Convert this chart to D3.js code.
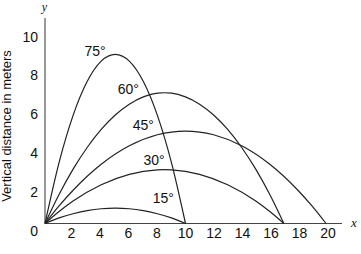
<!DOCTYPE html>
<html>
<head>
<meta charset="utf-8">
<script src="https://cdnjs.cloudflare.com/ajax/libs/d3/7.8.5/d3.min.js"></script>
<style>
  body { margin: 0; background: #fff; }
  svg { display: block; }
  .tick text { font-family: "Liberation Sans", Arial, Helvetica, sans-serif; font-size: 14px; fill: #111; }
</style>
</head>
<body>
<script>
// tick labels
var xTicks = [2, 4, 6, 8, 10, 12, 14, 16, 18, 20];
var yTicks = [0, 2, 4, 6, 8, 10];

// trajectories: [horizontal m, vertical m]
var curve15 = [[0, 0], [1, 0.30], [2, 0.52], [3, 0.69], [4, 0.79], [5, 0.82], [6, 0.79], [7, 0.69], [8, 0.52], [9, 0.30], [10, 0]];
var curve30 = [[0, 0], [1, 0.64], [2, 1.20], [4, 2.07], [6, 2.63], [8, 2.87], [8.5, 2.88], [9, 2.87], [11, 2.63], [13, 2.07], [15, 1.20], [16, 0.64], [17, 0]];
var curve45 = [[0, 0], [1, 0.94], [2, 1.78], [4, 3.17], [6, 4.16], [8, 4.75], [10, 4.95], [12, 4.75], [14, 4.16], [16, 3.17], [18, 1.78], [19, 0.94], [20, 0]];
var curve60 = [[0, 0], [1, 1.55], [2, 2.91], [3, 4.07], [4, 5.04], [5, 5.81], [6, 6.39], [7, 6.78], [8, 6.98], [8.5, 7.0], [9, 6.98], [10, 6.78], [11, 6.39], [12, 5.81], [13, 5.04], [14, 4.07], [15, 2.91], [16, 1.55], [17, 0]];
var curve75 = [[0, 0], [1, 3.26], [2, 5.79], [3, 7.60], [4, 8.69], [5, 9.05], [6, 8.69], [7, 7.60], [8, 5.79], [9, 3.26], [10, 0]];

var angles = ['15°', '30°', '45°', '60°', '75°'];
var curves = [curve15, curve30, curve45, curve60, curve75];
// where each angle label sits (data units, baseline)
var labelAt = [[8.42, 1.10], [7.76, 3.13], [7.0, 5.0], [5.93, 6.93], [3.56, 8.97]];

var width = 361;
var height = 254;

var svg = d3.select('body').append('svg')
    .attr('width', width)
    .attr('height', height);

// data scales (corner of the axes is 0,0)
var x = d3.scaleLinear().domain([0, 20]).range([45, 326]);
var y = d3.scaleLinear().domain([0, 10]).range([223.5, 36.7]);
// the printed numbers sit a little off the data grid in the original
var xLab = d3.scaleLinear().domain([0, 20]).range([42.5, 327.5]);
var yLab = d3.scaleLinear().domain([0, 10]).range([230.7, 36.7]);

// axis lines
svg.append('line')
    .attr('x1', x(0)).attr('y1', 18)
    .attr('x2', x(0)).attr('y2', y(0))
    .attr('stroke', '#444').attr('stroke-width', 1.1);
svg.append('line')
    .attr('x1', x(0)).attr('y1', y(0))
    .attr('x2', 342).attr('y2', y(0))
    .attr('stroke', '#444').attr('stroke-width', 1.1);

// tick labels
var xAxis = svg.append('g')
    .attr('transform', 'translate(0,' + 226 + ')')
    .call(d3.axisBottom(xLab).tickValues(xTicks).tickSize(0).tickPadding(2).tickFormat(d3.format('d')));
xAxis.select('.domain').remove();

var yAxis = svg.append('g')
    .attr('transform', 'translate(' + 40 + ',0)')
    .call(d3.axisLeft(yLab).tickValues(yTicks).tickSize(0).tickPadding(2).tickFormat(d3.format('d')));
yAxis.select('.domain').remove();

// trajectories
var line = d3.line()
    .x(function (d) { return x(d[0]); })
    .y(function (d) { return y(d[1]); })
    .curve(d3.curveMonotoneX);

svg.selectAll('.traj')
    .data(curves)
    .enter().append('path')
    .attr('class', 'traj')
    .attr('d', line)
    .attr('fill', 'none')
    .attr('stroke', '#222')
    .attr('stroke-width', 1.2);

// angle labels
svg.selectAll('.angle')
    .data(angles)
    .enter().append('text')
    .attr('class', 'angle')
    .attr('x', function (d, i) { return x(labelAt[i][0]); })
    .attr('y', function (d, i) { return y(labelAt[i][1]); })
    .attr('text-anchor', 'middle')
    .attr('font-family', '"Liberation Sans", Arial, Helvetica, sans-serif')
    .attr('font-size', 14)
    .attr('fill', '#111')
    .text(function (d) { return d; });

// axis titles
svg.append('text')
    .attr('transform', 'translate(11,' + 126 + ') rotate(-90)')
    .attr('text-anchor', 'middle')
    .attr('font-family', '"Liberation Sans", Arial, Helvetica, sans-serif')
    .attr('font-size', 13)
    .attr('fill', '#111')
    .text('Vertical distance in meters');

svg.append('text')
    .attr('x', 44.5).attr('y', 11)
    .attr('text-anchor', 'middle')
    .attr('font-family', '"Liberation Serif", "Times New Roman", serif')
    .attr('font-style', 'italic')
    .attr('font-size', 12)
    .attr('fill', '#111')
    .text('y');

svg.append('text')
    .attr('x', 354).attr('y', 226.5)
    .attr('text-anchor', 'middle')
    .attr('font-family', '"Liberation Serif", "Times New Roman", serif')
    .attr('font-style', 'italic')
    .attr('font-size', 13)
    .attr('fill', '#111')
    .text('x');
</script>
</body>
</html>
